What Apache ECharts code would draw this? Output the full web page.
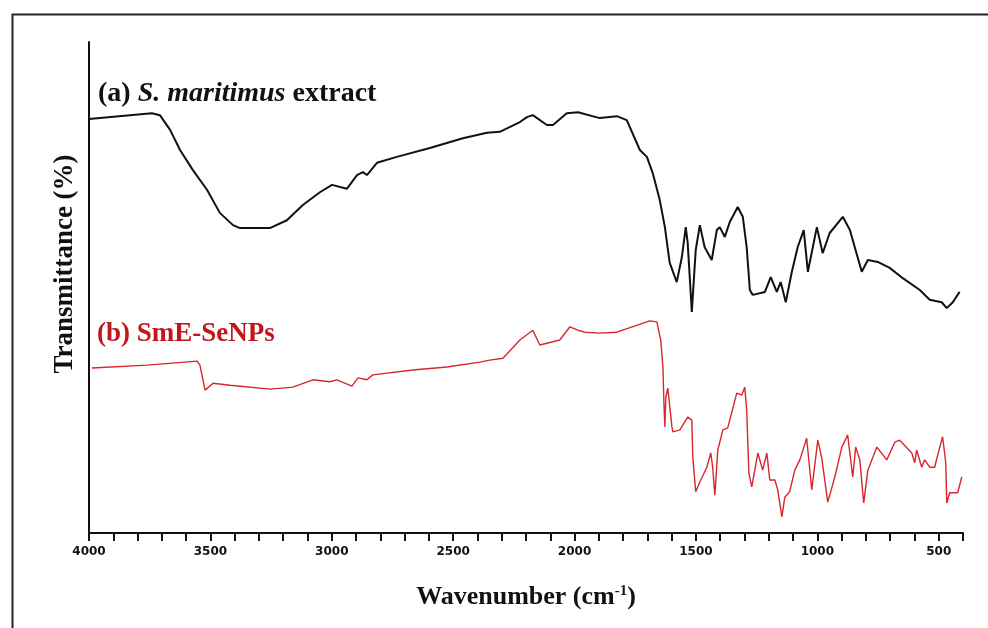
<!DOCTYPE html>
<html>
<head>
<meta charset="utf-8">
<script src="https://cdn.jsdelivr.net/npm/echarts@6/dist/echarts.min.js"></script>
<style>html,body{margin:0;padding:0;background:#fff;}#c{width:988px;height:628px;}</style>
</head>
<body>
<div id="c"></div>
<script>
// (a) S. maritimus extract
const waveA = [4000,3741,3708,3666,3625,3572,3514,3461,3407,3378,3255,3185,3119,3049,2999,2938,2896,2872,2855,2814,2732,2596,2460,2361,2308,2225,2196,2172,2114,2089,2032,1986,1896,1826,1785,1731,1702,1678,1649,1628,1608,1579,1558,1542,1534,1517,1501,1484,1464,1435,1414,1402,1381,1361,1328,1307,1291,1278,1266,1216,1192,1167,1151,1130,1105,1081,1056,1039,1002,978,949,895,866,817,792,751,702,648,578,537,488,467,442,414];
const transA = [84.3,85.5,85.1,82.1,78.0,73.9,69.9,65.2,62.7,62.1,62.1,63.7,66.8,69.4,70.9,70.1,72.9,73.5,72.9,75.4,76.6,78.4,80.4,81.5,81.7,83.7,84.7,85.1,83.1,83.1,85.5,85.7,84.5,84.9,84.1,78.0,76.6,73.3,67.8,62.3,55.0,51.1,56.2,62.3,59.1,45.0,57.6,62.7,58.2,55.6,61.7,62.3,60.3,63.3,66.4,64.4,58.2,49.5,48.5,49.1,52.1,49.1,51.1,47.0,53.2,58.2,61.7,53.2,62.3,57.0,61.1,64.4,61.7,53.2,55.6,55.2,54.0,51.9,49.5,47.5,47.0,45.8,47.0,49.1];
// (b) SmE-SeNPs
const waveB = [3988,3761,3555,3543,3522,3489,3419,3255,3160,3078,3008,2979,2917,2892,2855,2831,2666,2526,2390,2349,2295,2225,2172,2143,2061,2019,1986,1958,1896,1826,1690,1661,1645,1636,1632,1628,1624,1616,1608,1599,1595,1566,1534,1517,1513,1501,1484,1455,1439,1431,1422,1410,1389,1369,1332,1311,1299,1291,1282,1270,1245,1225,1208,1196,1175,1163,1146,1134,1114,1093,1072,1044,1023,998,982,957,928,899,875,854,842,825,809,792,755,714,681,661,611,599,591,570,558,537,517,504,484,471,467,455,422,405];
const transB = [33.6,34.2,35.0,34.2,29.1,30.5,30.1,29.3,29.7,31.2,30.8,31.2,29.9,31.6,31.2,32.2,33.2,33.8,34.8,35.2,35.6,39.3,41.3,38.3,39.3,42.0,41.3,40.9,40.7,40.9,43.2,43.0,39.3,33.8,26.5,21.6,27.7,29.5,29.7,21.6,20.6,21.0,23.6,23.0,15.5,8.4,10.4,13.4,16.3,13.4,7.7,16.9,21.0,21.4,28.5,28.1,29.7,25.1,12.2,9.4,16.3,12.8,16.3,10.8,10.8,8.8,3.3,7.3,8.4,12.8,14.9,19.3,8.8,18.9,15.3,6.3,11.4,17.5,20.0,11.4,17.5,14.9,6.1,12.8,17.5,14.9,18.5,18.9,16.3,14.3,16.9,13.4,14.9,13.4,13.4,15.9,19.6,14.3,6.1,8.2,8.2,11.4];

const xMin = 400, xMax = 4000, xStep = 100, labelStep = 500;
const yMin = 0, yMax = 100;

const zip = (xs, ys) => xs.map((x, i) => [x, ys[i]]);

const chart = echarts.init(document.getElementById('c'), null, {renderer: 'canvas'});
const serif = '"Liberation Serif", "Times New Roman", serif';
chart.setOption({
  animation: false,
  backgroundColor: '#ffffff',
  grid: {left: 89, right: 25, top: 42, bottom: 95, containLabel: false},
  xAxis: {
    type: 'value', inverse: true, min: xMin, max: xMax, interval: xStep,
    name: 'Wavenumber (cm{sup|-1})', nameLocation: 'middle', nameGap: 51,
    nameTextStyle: {fontFamily: serif, fontWeight: 'bold', fontSize: 26, color: '#111',
      rich: {sup: {fontFamily: serif, fontWeight: 'bold', fontSize: 15, color: '#111', verticalAlign: 'top', padding: [0,0,12,0]}}},
    axisLine: {show: true, onZero: false, lineStyle: {color: '#111', width: 2}},
    axisTick: {show: true, inside: false, length: 8, lineStyle: {color: '#111', width: 2}},
    axisLabel: {show: true, margin: 13, color: '#111', fontFamily: '"DejaVu Sans", sans-serif', fontWeight: 'bold', fontSize: 12,
      formatter: v => (v % labelStep === 0 ? String(v) : '')},
    splitLine: {show: false}
  },
  yAxis: {
    type: 'value', min: yMin, max: yMax,
    axisLine: {show: true, onZero: false, lineStyle: {color: '#111', width: 2}},
    axisTick: {show: false}, axisLabel: {show: false}, splitLine: {show: false}
  },
  series: [
    {
      type: 'line', name: '(a)', data: zip(waveA, transA), showSymbol: false, symbol: 'none',
      lineStyle: {color: '#111', width: 2}
    },
    {
      type: 'line', name: '(b)', data: zip(waveB, transB), showSymbol: false, symbol: 'none',
      lineStyle: {color: '#d8262c', width: 1.4},
      markLine: {silent: true, symbol: 'none', label: {show: false},
        lineStyle: {color: '#111', width: 2, type: 'solid'},
        data: [[{coord: [xMin, -3.2]}, {coord: [xMin, 3.2]}]]}
    }
  ],
  graphic: [
    {type: 'rect', left: 10, top: 12, shape: {x: 0, y: 0, width: 1000, height: 640}, style: {fill: 'none', stroke: '#222', lineWidth: 2}, silent: true},
    {type: 'text', x: 65, y: 264, rotation: Math.PI / 2, style: {
      text: 'Transmittance (%)', align: 'center', verticalAlign: 'middle',
      fontFamily: serif, fontWeight: 'bold', fontSize: 27, fill: '#111'}},
    {type: 'text', x: 98, y: 108, style: {
      text: '(a) {i|S. maritimus} extract', verticalAlign: 'bottom',
      rich: {i: {fontFamily: serif, fontWeight: 'bold', fontStyle: 'italic', fontSize: 28, fill: '#111'}},
      fontFamily: serif, fontWeight: 'bold', fontSize: 28, fill: '#111'}},
    {type: 'text', x: 97, y: 348, style: {
      text: '(b) SmE-SeNPs', verticalAlign: 'bottom', fontFamily: serif, fontWeight: 'bold', fontSize: 27, fill: '#c0161c'}}
  ]
});
</script>
</body>
</html>
